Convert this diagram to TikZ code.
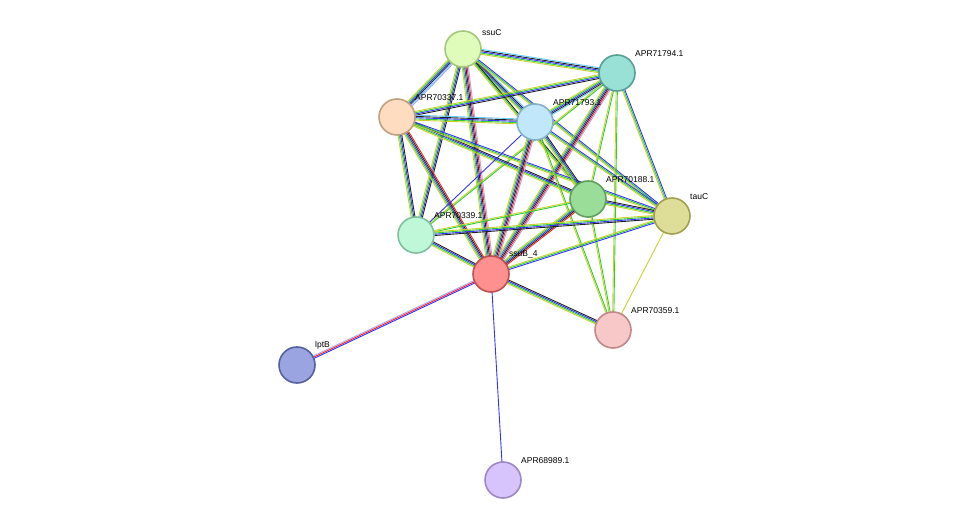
\documentclass[tikz,border=0pt]{standalone}
\usepackage{fontspec}
\setmainfont{Liberation Sans}
\usetikzlibrary{calc}
\pgfdeclarelayer{background}
\pgfsetlayers{background,main}

\definecolor{sgreen}{HTML}{33CC33}
\definecolor{sred}{HTML}{FF2020}
\definecolor{sblue}{HTML}{3333FF}
\definecolor{sblack}{HTML}{222222}
\definecolor{scyan}{HTML}{66CCFF}
\definecolor{spurple}{HTML}{A8A8F0}
\definecolor{syellow}{HTML}{C8D22A}

\tikzset{
  prot/.style={circle, minimum size=36pt, inner sep=0pt, line width=1.6pt},
  lbl/.style={font=\fontsize{8.5}{10}\selectfont, inner sep=1pt},
  link/.style={line width=0.9pt}
}

% parallel coloured lines between two nodes
\newcommand{\edge}[3]{
  \foreach \c [count=\i] in {#3} {\xdef\nlines{\i}}
  \foreach \c [count=\i] in {#3} {
    \pgfmathsetmacro{\off}{(\i-(\nlines+1)/2)*1.25}
    \draw[link, \c] ($(#1.center)!\off pt!90:(#2.center)$) -- ($(#2.center)!\off pt!-90:(#1.center)$);
  }
}

\begin{document}
\begin{tikzpicture}[x=1pt,y=-1pt]
  \useasboundingbox (0,0) rectangle (976,526);

  % Proteins
  \node[prot, fill={rgb,255:red,224;green,252;blue,186}, draw={rgb,255:red,166;green,200;blue,124}] (ssuC) at (463,49) {};
  \node[prot, fill={rgb,255:red,153;green,224;blue,214}, draw={rgb,255:red,86;green,160;blue,150}] (p71794) at (617,73) {};
  \node[prot, fill={rgb,255:red,253;green,220;blue,192}, draw={rgb,255:red,190;green,160;blue,128}] (p70337) at (397,117) {};
  \node[prot, fill={rgb,255:red,192;green,232;blue,250}, draw={rgb,255:red,132;green,176;blue,204}] (p71793) at (535,122) {};
  \node[prot, fill={rgb,255:red,153;green,221;blue,153}, draw={rgb,255:red,95;green,160;blue,95}] (p70188) at (588,199) {};
  \node[prot, fill={rgb,255:red,222;green,222;blue,153}, draw={rgb,255:red,160;green,160;blue,80}] (tauC) at (672,216) {};
  \node[prot, fill={rgb,255:red,191;green,248;blue,216}, draw={rgb,255:red,128;green,192;blue,160}] (p70339) at (416,235) {};
  \node[prot, fill={rgb,255:red,255;green,144;blue,144}, draw={rgb,255:red,192;green,80;blue,80}] (ssuB) at (491,274) {};
  \node[prot, fill={rgb,255:red,248;green,200;blue,200}, draw={rgb,255:red,192;green,136;blue,136}] (p70359) at (613,330) {};
  \node[prot, fill={rgb,255:red,153;green,164;blue,224}, draw={rgb,255:red,85;green,96;blue,160}] (lptB) at (297,365) {};
  \node[prot, fill={rgb,255:red,216;green,196;blue,252}, draw={rgb,255:red,156;green,136;blue,200}] (p68989) at (503,480) {};

  % Labels
  \node[lbl, anchor=south west] at ($(ssuC)+(18,-12)$) {ssuC};
  \node[lbl, anchor=south west] at ($(p71794)+(17,-15)$) {APR71794.1};
  \node[lbl, anchor=south west] at ($(p70337)+(17,-15)$) {APR70337.1};
  \node[lbl, anchor=south west] at ($(p71793)+(17,-15)$) {APR71793.1};
  \node[lbl, anchor=south west] at ($(p70188)+(17,-15)$) {APR70188.1};
  \node[lbl, anchor=south west] at ($(tauC)+(17,-15)$) {tauC};
  \node[lbl, anchor=south west] at ($(p70339)+(17,-15)$) {APR70339.1};
  \node[lbl, anchor=south west] at ($(ssuB)+(17,-15)$) {ssuB\_4};
  \node[lbl, anchor=south west] at ($(p70359)+(17,-15)$) {APR70359.1};
  \node[lbl, anchor=south west] at ($(lptB)+(17,-15)$) {lptB};
  \node[lbl, anchor=south west] at ($(p68989)+(17,-15)$) {APR68989.1};

  % Interactions
  \begin{pgfonlayer}{background}
    \edge{ssuC}{p71794}{syellow,sgreen,sblue,sblack,scyan}
    \edge{ssuC}{p70337}{syellow,sgreen,sblue,sblack,scyan,spurple}
    \edge{ssuC}{p71793}{syellow,sgreen,sblue,sblack,scyan}
    \edge{ssuC}{p70188}{syellow,sgreen,sblack}
    \edge{ssuC}{tauC}{syellow,sgreen,sblue}
    \edge{ssuC}{p70339}{syellow,sgreen,sblue,sblack}
    \edge{ssuC}{ssuB}{syellow,sgreen,sblue,sblack,sred,spurple}
    \edge{p71794}{p70337}{syellow,sgreen,sblue,sblack}
    \edge{p71794}{p71793}{syellow,sgreen,sblue,sblack,scyan}
    \edge{p71794}{p70188}{syellow,sgreen}
    \edge{p71794}{tauC}{syellow,sgreen,sblue}
    \edge{p71794}{p70339}{syellow,sgreen}
    \edge{p71794}{ssuB}{syellow,sgreen,sblue,sblack,sred,spurple}
    \edge{p71794}{p70359}{syellow,sgreen}
    \edge{p70337}{p71793}{syellow,sgreen,sblue,sblack,scyan}
    \edge{p70337}{p70188}{syellow,sgreen,sblue,sblack}
    \edge{p70337}{tauC}{syellow,sgreen,sblue}
    \edge{p70337}{p70339}{syellow,sgreen,sblue,sblack}
    \edge{p70337}{ssuB}{syellow,sgreen,sblue,sblack,sred}
    \edge{p71793}{p70188}{syellow,sgreen,sblue,sblack}
    \edge{p71793}{tauC}{syellow,sgreen,sblue}
    \edge{p71793}{p70339}{sblue}
    \edge{p71793}{ssuB}{syellow,sgreen,sblue,sblack,sred,spurple}
    \edge{p71793}{p70359}{syellow,sgreen}
    \edge{p70188}{tauC}{syellow,sgreen,sblue,sblack}
    \edge{p70188}{p70339}{syellow,sgreen}
    \edge{p70188}{ssuB}{syellow,sgreen,sblue,sblack,sred}
    \edge{p70188}{p70359}{syellow,sgreen}
    \edge{tauC}{p70339}{syellow,sgreen,sblue,sblack}
    \edge{tauC}{ssuB}{syellow,sgreen,sblue}
    \edge{tauC}{p70359}{syellow}
    \edge{p70339}{ssuB}{syellow,sgreen,sblue,sblack}
    \edge{ssuB}{p70359}{syellow,sgreen,sblue,sblack}
    \edge{ssuB}{lptB}{spurple,sred,sblue}
    \edge{ssuB}{p68989}{sblue}
  \end{pgfonlayer}
\end{tikzpicture}
\end{document}
